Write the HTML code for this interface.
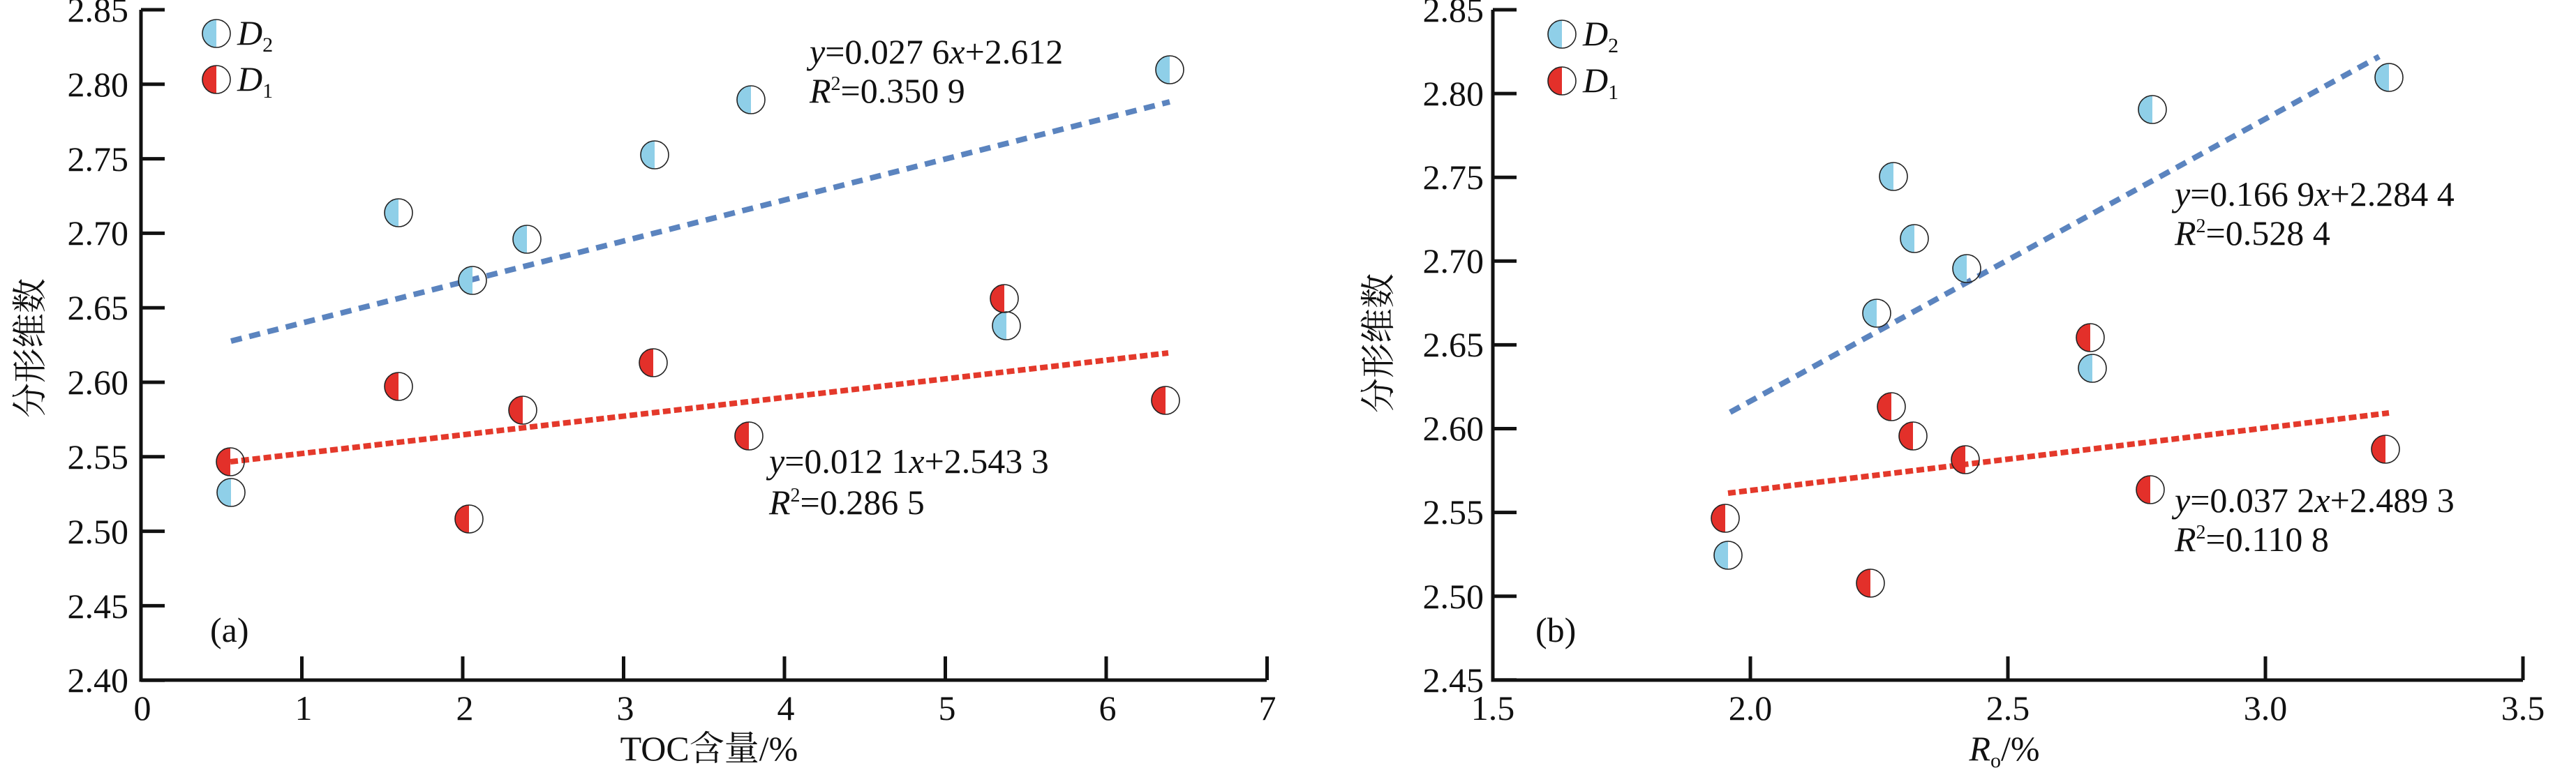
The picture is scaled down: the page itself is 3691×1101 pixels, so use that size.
<!DOCTYPE html>
<html><head><meta charset="utf-8"><style>
html,body{margin:0;padding:0;background:#fff}
svg{display:block}
text{font-family:"Liberation Serif","Noto Serif CJK SC",serif;fill:#111}
</style></head><body>
<svg id="s" width="3691" height="1101" viewBox="0 0 3691 1101" xmlns="http://www.w3.org/2000/svg">
<g stroke="#111" stroke-width="5" fill="none">
<polyline points="202,14 202,975 1815,975"/>
<polyline points="2139,14 2139,975 3615,975"/>
</g>
<g id="ticks" stroke="#111" stroke-width="5"></g>
<g font-size="50">
<g text-anchor="end">
<text x="184" y="31">2.85</text><text x="184" y="138">2.80</text><text x="184" y="245">2.75</text>
<text x="184" y="351">2.70</text><text x="184" y="458">2.65</text><text x="184" y="565">2.60</text>
<text x="184" y="672">2.55</text><text x="184" y="779">2.50</text><text x="184" y="886">2.45</text>
<text x="184" y="992">2.40</text>
<text x="2126" y="31">2.85</text><text x="2126" y="151">2.80</text><text x="2126" y="271">2.75</text>
<text x="2126" y="391">2.70</text><text x="2126" y="511">2.65</text><text x="2126" y="631">2.60</text>
<text x="2126" y="751">2.55</text><text x="2126" y="872">2.50</text><text x="2126" y="992">2.45</text>
</g>
<g text-anchor="middle">
<text x="204" y="1032">0</text><text x="435" y="1032">1</text><text x="666" y="1032">2</text>
<text x="896" y="1032">3</text><text x="1126" y="1032">4</text><text x="1357" y="1032">5</text>
<text x="1587" y="1032">6</text><text x="1816" y="1032">7</text>
<text x="2139" y="1032">1.5</text><text x="2508" y="1032">2.0</text><text x="2877" y="1032">2.5</text>
<text x="3246" y="1032">3.0</text><text x="3615" y="1032">3.5</text>
<text x="1016" y="1090">TOC含量/%</text>
<text x="2872" y="1090"><tspan font-style="italic">R</tspan><tspan font-size="30" dy="10">o</tspan><tspan dy="-10">/%</tspan></text>
</g>
<text transform="translate(60,499) rotate(-90)" text-anchor="middle">分形维数</text>
<text transform="translate(1992,492) rotate(-90)" text-anchor="middle">分形维数</text>
<text x="301" y="920">(a)</text><text x="2200" y="920">(b)</text>
<text x="340" y="64" font-style="italic">D<tspan font-size="30" dy="10" font-style="normal">2</tspan></text>
<text x="340" y="130" font-style="italic">D<tspan font-size="30" dy="10" font-style="normal">1</tspan></text>
<text x="2268" y="65" font-style="italic">D<tspan font-size="30" dy="10" font-style="normal">2</tspan></text>
<text x="2268" y="132" font-style="italic">D<tspan font-size="30" dy="10" font-style="normal">1</tspan></text>
<text x="1160" y="91"><tspan font-style="italic">y</tspan>=0.027 6<tspan font-style="italic">x</tspan>+2.612</text>
<text x="1160" y="147"><tspan font-style="italic">R</tspan><tspan font-size="28" dy="-18">2</tspan><tspan dy="18">=0.350 9</tspan></text>
<text x="1102" y="678"><tspan font-style="italic">y</tspan>=0.012 1<tspan font-style="italic">x</tspan>+2.543 3</text>
<text x="1102" y="737"><tspan font-style="italic">R</tspan><tspan font-size="28" dy="-18">2</tspan><tspan dy="18">=0.286 5</tspan></text>
<text x="3116" y="295"><tspan font-style="italic">y</tspan>=0.166 9<tspan font-style="italic">x</tspan>+2.284 4</text>
<text x="3116" y="351"><tspan font-style="italic">R</tspan><tspan font-size="28" dy="-18">2</tspan><tspan dy="18">=0.528 4</tspan></text>
<text x="3116" y="734"><tspan font-style="italic">y</tspan>=0.037 2<tspan font-style="italic">x</tspan>+2.489 3</text>
<text x="3116" y="790"><tspan font-style="italic">R</tspan><tspan font-size="28" dy="-18">2</tspan><tspan dy="18">=0.110 8</tspan></text>
</g>
<g stroke-width="8" fill="none">
<line x1="331" y1="489" x2="1676" y2="146" stroke="#5b84bf" stroke-dasharray="16,11"/>
<line x1="330" y1="662" x2="1674" y2="506" stroke="#e4392b" stroke-dasharray="11,5"/>
<line x1="2479" y1="591" x2="3409" y2="81" stroke="#5b84bf" stroke-dasharray="16,11"/>
<line x1="2476" y1="707" x2="3423" y2="592" stroke="#e4392b" stroke-dasharray="11,5"/>
</g>
<g id="m"></g>
</svg>
<script>
var NS="http://www.w3.org/2000/svg",t=document.getElementById("ticks"),m=document.getElementById("m");
function L(a,b,c,d){var e=document.createElementNS(NS,"line");e.setAttribute("x1",a);e.setAttribute("y1",b);e.setAttribute("x2",c);e.setAttribute("y2",d);t.appendChild(e);}
for(var i=0;i<10;i++){var y=14+i*106.8;L(202,y,236,y);}
for(var i=1;i<=7;i++){var x=202+230.5*i;L(x,975,x,941);}
for(var i=0;i<9;i++){var y=14+i*120.1;L(2139,y,2173,y);}
for(var i=1;i<=4;i++){var x=2139+369*i;L(x,975,x,941);}
function M(x,y,c){var r=20;var p=document.createElementNS(NS,"path");p.setAttribute("d","M"+x+","+(y-r)+"A"+r+","+r+" 0 0 0 "+x+","+(y+r)+"Z");p.setAttribute("fill",c);m.appendChild(p);
var q=document.createElementNS(NS,"circle");q.setAttribute("cx",x);q.setAttribute("cy",y);q.setAttribute("r",r);q.setAttribute("fill","none");q.setAttribute("stroke","#222");q.setAttribute("stroke-width","1.6");m.appendChild(q);}
var B="#8fcfe8",R="#e3302a";
[[331,706],[571,305],[677,402],[755,343],[938,222],[1076,143],[1442,467],[1676,100],[310,48],
 [2476,796],[2689,449],[2713,253],[2743,342],[2818,385],[2998,528],[3084,157],[3423,111],[2238,49]].forEach(function(p){M(p[0],p[1],B);});
[[330,662],[571,554],[672,744],[749,588],[936,520],[1073,625],[1439,428],[1670,574],[310,114],
 [2472,743],[2680,836],[2710,583],[2741,625],[2816,659],[2995,484],[3081,702],[3418,644],[2238,116]].forEach(function(p){M(p[0],p[1],R);});
</script>
</body></html>
